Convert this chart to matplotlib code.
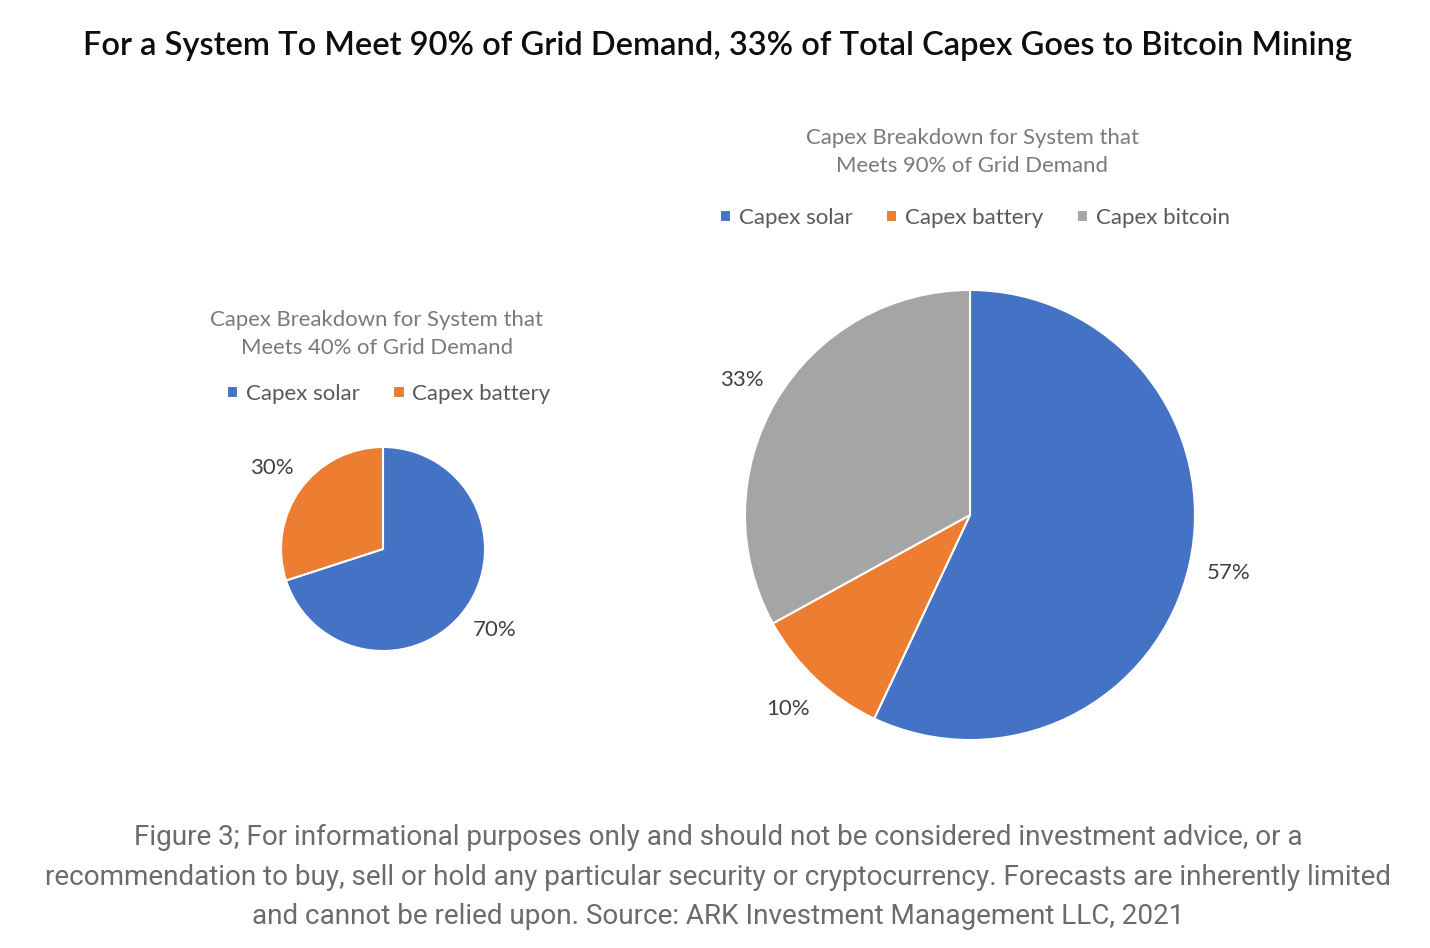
import matplotlib
matplotlib.use("Agg")
import matplotlib.pyplot as plt

# ---- data ----
title = "For a System To Meet 90% of Grid Demand, 33% of Total Capex Goes to Bitcoin Mining"
small_title = "Capex Breakdown for System that\nMeets 40% of Grid Demand"
small_labels = ["Capex solar", "Capex battery"]
small_values = [70, 30]
big_title = "Capex Breakdown for System that\nMeets 90% of Grid Demand"
big_labels = ["Capex solar", "Capex battery", "Capex bitcoin"]
big_values = [57, 10, 33]
caption = ("Figure 3; For informational purposes only and should not be considered investment advice, or a\n"
           "recommendation to buy, sell or hold any particular security or cryptocurrency. Forecasts are inherently limited\n"
           "and cannot be relied upon. Source: ARK Investment Management LLC, 2021")

colors = ["#4472C4", "#ED7D31", "#A5A5A5"]
W, H = 1430, 948

fig = plt.figure(figsize=(W / 100, H / 100), dpi=100)
ax = fig.add_axes([0, 0, 1, 1])
ax.set_xlim(0, W)
ax.set_ylim(0, H)
ax.set_aspect("equal")
ax.axis("off")

font = ["Lato", "DejaVu Sans"]

def Y(py):
    return H - py

fig.text(718 / W, 1 - 46 / H, title, ha="center", va="center", fontsize=23.5,
         family=font, weight=600, color="#0d0d0d")

def draw_pie(values, labels, sub_text, cx, cy, r, pctd, sub_x, sub_y, leg_x, leg_y):
    wedges, texts, autotexts = ax.pie(
        values, colors=colors[:len(values)], startangle=90, counterclock=False,
        center=(cx, Y(cy)), radius=r, autopct="%d%%", pctdistance=pctd,
        wedgeprops=dict(edgecolor="white", linewidth=1.5),
        textprops=dict(fontsize=16, family=font, color="#404040"), frame=True)
    ax.text(sub_x, Y(sub_y), sub_text,
            ha="center", va="center", fontsize=15.9, family=font, color="#7a7a7a",
            linespacing=1.5)
    fig.legend(wedges, labels, loc="center", bbox_to_anchor=(leg_x / W, 1 - leg_y / H),
               ncol=len(labels), frameon=False, handlelength=0.5, handleheight=0.5,
               handletextpad=0.35, columnspacing=1.5,
               prop=dict(family=font, size=16), labelcolor="#595959")

draw_pie(small_values, small_labels, small_title, 383, 549, 102, 1.35, 377, 334, 389, 394)
draw_pie(big_values, big_labels, big_title, 970, 515, 225, 1.18, 972, 152, 975, 218)

ax.set_xlim(0, W)
ax.set_ylim(0, H)
ax.axis("off")

fig.text(718 / W, 1 - 877 / H, caption, ha="center", va="center", fontsize=20.1,
         family=["Roboto", "DejaVu Sans"], color="#6b6b6b", linespacing=1.6)

fig.savefig("out.png", dpi=100, facecolor="white")
